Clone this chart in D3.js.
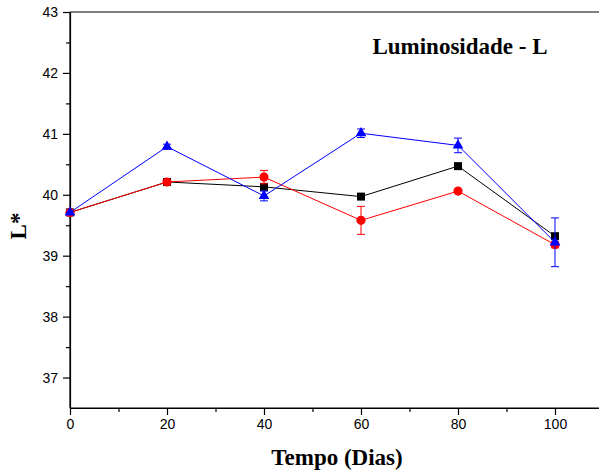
<!DOCTYPE html>
<html>
<head>
<meta charset="utf-8">
<script src="https://cdn.jsdelivr.net/npm/d3@7"></script>
<style>
  body { margin: 0; background: #fff; }
  svg { display: block; }
  .tick text { font-family: "Liberation Sans", Arial, sans-serif; font-size: 14px; fill: #000; }
  .ttl { font-family: "Liberation Serif", "Times New Roman", serif; font-weight: bold; }
</style>
</head>
<body>
<figure id="chart" style="margin:0"></figure>
<script>
// data
const dias = [0, 20, 40, 60, 80, 100];
const serieA = [39.71, 40.21, 40.13, 39.97, 40.47, 39.32];   // black squares
const erroA  = [0, 0.03, 0.04, 0.03, 0.03, 0.04];
const serieB = [39.71, 40.21, 40.29, 39.58, 40.06, 39.18];   // red circles
const erroB  = [0, 0.03, 0.11, 0.23, 0.03, 0.05];
const serieC = [39.71, 40.79, 39.98, 41.01, 40.81, 39.22];   // blue triangles
const erroC  = [0, 0.04, 0.08, 0.07, 0.12, 0.4];
const xTicks = [0, 20, 40, 60, 80, 100];
const yTicks = [37, 38, 39, 40, 41, 42, 43];

const W = 599, H = 475;
const mLeft = 70, mTop = 12, mBottom = 408;

const svg = d3.select("#chart")
  .append("svg")
  .attr("width", W)
  .attr("height", H);

const x = d3.scaleLinear().domain([0, 110]).range([mLeft, mLeft + 533.5]);
const y = d3.scaleLinear().domain([36.5, 43]).range([mBottom, mTop]);

// frame top line
svg.append("line")
  .attr("x1", mLeft).attr("x2", W)
  .attr("y1", mTop).attr("y2", mTop)
  .attr("stroke", "#000").attr("stroke-width", 1.2);

// x axis (minor + major in separate groups)
svg.append("g").attr("transform", "translate(0," + mBottom + ")")
  .call(d3.axisBottom(x).tickValues(d3.range(10, 110, 20)).tickSize(4).tickSizeOuter(0).tickFormat(""));
const gx = svg.append("g").attr("transform", "translate(0," + mBottom + ")")
  .call(d3.axisBottom(x).tickValues(xTicks).tickSize(7).tickSizeOuter(0).tickPadding(4).tickFormat(d3.format("d")));
gx.select("path.domain").attr("d", "M" + mLeft + ",0H" + W);

// y axis
svg.append("g").attr("transform", "translate(" + mLeft + ",0)")
  .call(d3.axisLeft(y).tickValues(d3.range(37.5, 43, 1)).tickSize(4).tickSizeOuter(0).tickFormat(""));
const gy = svg.append("g").attr("transform", "translate(" + mLeft + ",0)")
  .call(d3.axisLeft(y).tickValues(yTicks).tickSize(7).tickSizeOuter(0).tickPadding(5).tickFormat(d3.format("d")));
gy.select("path.domain").attr("d", "M0," + mTop + "V" + mBottom);

svg.selectAll(".domain, .tick line").attr("stroke", "#000").attr("stroke-width", 1.2);

// axis titles
svg.append("text")
  .attr("class", "ttl")
  .attr("x", 337).attr("y", 465)
  .attr("text-anchor", "middle")
  .style("font-size", "23px")
  .text("Tempo (Dias)");

svg.append("text")
  .attr("class", "ttl")
  .attr("transform", "translate(26,226)rotate(-90)")
  .attr("text-anchor", "middle")
  .style("font-size", "23px")
  .text("L*");

svg.append("text")
  .attr("class", "ttl")
  .attr("x", 460).attr("y", 54)
  .attr("text-anchor", "middle")
  .style("font-size", "23px")
  .text("Luminosidade - L");

// series
const series = [
  { vals: serieA, err: erroA, color: "#000000", sym: d3.symbolSquare, size: 64 },
  { vals: serieB, err: erroB, color: "#ff0000", sym: d3.symbolCircle, size: 66 },
  { vals: serieC, err: erroC, color: "#0000ff", sym: d3.symbolTriangle, size: 50 }
];

const line = d3.line().x((d, i) => x(dias[i])).y(d => y(d));

series.forEach(s => {
  const g = svg.append("g");
  g.append("path")
    .datum(s.vals)
    .attr("d", line)
    .attr("fill", "none")
    .attr("stroke", s.color)
    .attr("stroke-width", 1);

  // error bars
  const eb = g.selectAll("g.err")
    .data(s.vals.map((v, i) => ({ v: v, e: s.err[i], d: dias[i] })).filter(d => d.e > 0))
    .enter().append("g")
    .attr("stroke", s.color).attr("stroke-width", 1);
  eb.append("line")
    .attr("x1", d => x(d.d)).attr("x2", d => x(d.d))
    .attr("y1", d => y(d.v - d.e)).attr("y2", d => y(d.v + d.e));
  eb.append("line")
    .attr("x1", d => x(d.d) - 4).attr("x2", d => x(d.d) + 4)
    .attr("y1", d => y(d.v - d.e)).attr("y2", d => y(d.v - d.e));
  eb.append("line")
    .attr("x1", d => x(d.d) - 4).attr("x2", d => x(d.d) + 4)
    .attr("y1", d => y(d.v + d.e)).attr("y2", d => y(d.v + d.e));

  g.selectAll("path.mk")
    .data(s.vals)
    .enter().append("path")
    .attr("class", "mk")
    .attr("d", d3.symbol().type(s.sym).size(s.size))
    .attr("transform", (d, i) => "translate(" + x(dias[i]) + "," + y(d) + ")")
    .attr("fill", s.color);
});
</script>
</body>
</html>
